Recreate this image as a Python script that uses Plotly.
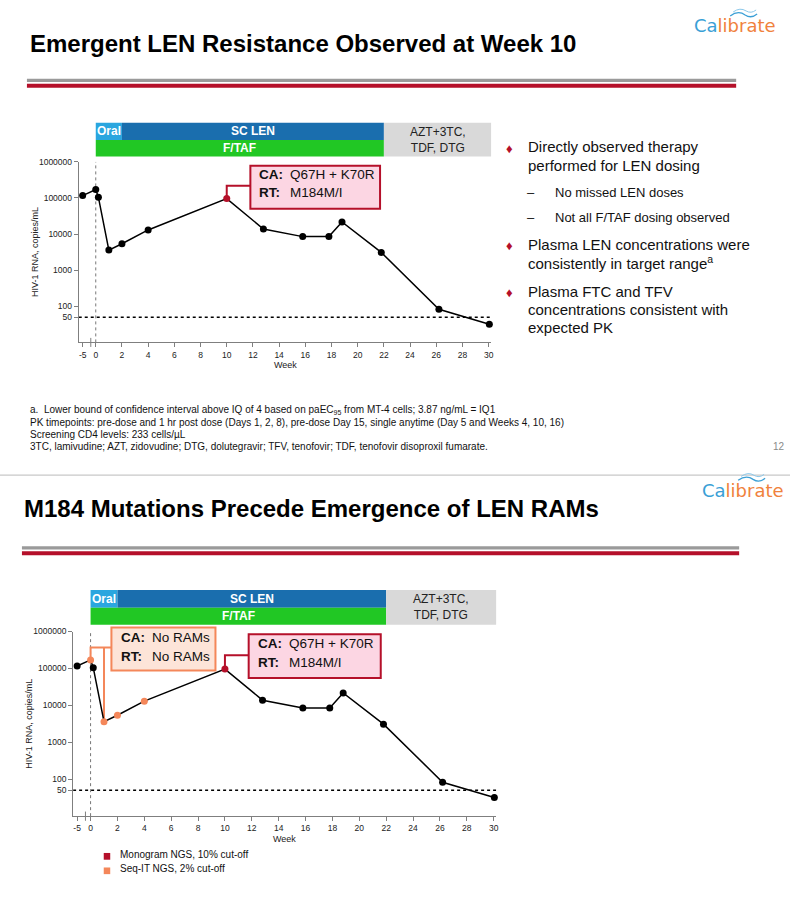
import plotly.graph_objects as go

W, H = 803, 900
FONT = "Liberation Sans, Arial, sans-serif"

# ---------------- data ----------------
weeks = [-5, 0, 0.2, 1, 2, 4, 10, 12.8, 15.8, 17.8, 18.8, 21.8, 26.2, 30.05]
rna = [116000, 170000, 105000, 3600, 5400, 13000, 96000, 13800, 8500, 8500, 21600, 3100, 83, 32]
top_colors = ["k", "k", "k", "k", "k", "k", "m", "k", "k", "k", "k", "k", "k", "k"]
bot_colors = ["k", "s", "k", "s", "s", "s", "m", "k", "k", "k", "k", "k", "k", "k"]
x_tick_labels = ["-5", "0", "2", "4", "6", "8", "10", "12", "14", "16", "18", "20", "22", "24", "26", "28", "30"]
y_tick_vals = [1000000, 100000, 10000, 1000, 100, 50]
y_tick_labels = ["1000000", "100000", "10000", "1000", "100", "50"]
lloq = 50
phase_row1 = ["Oral", "SC LEN"]
phase_row1_start = [0, 2]
phase_row1_end = [2, 22]
phase_row2 = ["F/TAF"]
phase_row2_start = [0]
phase_row2_end = [22]
post_label = "AZT+3TC,<br>TDF, DTG"
post_start = 22

COL = {"k": "#000000", "m": "#b5102a", "s": "#f4875a"}
XR = [-1.3, 30.2]
BREAK_POS = -1.0      # plotted position of week -5 (broken axis)
BREAK_MARK = -0.38


def xpos(w):
    return BREAK_POS if w < 0 else w


def px(x):
    return x / W


def py(y):
    return 1 - y / H


# chart pixel geometry (week-0 pixel, px per week, 1e6 pixel, px per decade)
G = {
    "top": dict(x0=96.0, sx=13.13, y6=157.7, sd=36.32, bar=(118.3, 135.7, 152.3)),
    "bot": dict(x0=90.8, sx=13.47, y6=630.0, sd=37.14, bar=(588.3, 606.0, 623.3)),
}


def wk_at(g, p):
    return (p - g["x0"]) / g["sx"]


def rna_at(g, p):
    return 10 ** (6 - (p - g["y6"]) / g["sd"])


fig = go.Figure()
shapes = []
ann = []


def text(x, y, s, size, color="#000", bold=False, xanchor="left", yanchor="middle", family=FONT, **kw):
    if bold:
        s = "<b>" + s + "</b>"
    y = y - 0.22 * size if not kw.get("textangle") else y
    ann.append(dict(x=px(x), y=py(y), xref="paper", yref="paper", text=s, showarrow=False,
                    xanchor=xanchor, yanchor=yanchor, font=dict(size=size, color=color, family=family), **kw))


def hline(x0, x1, y, color, width):
    shapes.append(dict(type="line", xref="paper", yref="paper", x0=px(x0), x1=px(x1), y0=py(y), y1=py(y),
                       line=dict(color=color, width=width)))


def rect(x0, y0, x1, y1, fill, line_color=None, lw=0):
    shapes.append(dict(type="rect", xref="paper", yref="paper", x0=px(x0), x1=px(x1), y0=py(y1), y1=py(y0),
                       fillcolor=fill, line=dict(color=line_color or fill, width=lw), layer="above"))


def logo(xl, yc):
    text(xl, yc, "<span style='color:#3a9fd6'>Ca</span><span style='color:#f0823c'>librate</span>", 18,
         family="DejaVu Sans, sans-serif")
    def path(pts):
        s = "M %f,%f" % (px(pts[0][0]), py(pts[0][1]))
        for i in range(1, len(pts) - 1, 2):
            s += " Q %f,%f %f,%f" % (px(pts[i][0]), py(pts[i][1]), px(pts[i + 1][0]), py(pts[i + 1][1]))
        return s
    o = xl + 38
    shapes.append(dict(type="path", xref="paper", yref="paper",
                       path=path([(o, yc - 14), (o + 8, yc - 20), (o + 15, yc - 15), (o + 21, yc - 11), (o + 27, yc - 16)]),
                       line=dict(color="#3a9fd6", width=1.3)))
    shapes.append(dict(type="path", xref="paper", yref="paper",
                       path=path([(o + 3, yc - 18), (o + 10, yc - 23), (o + 16, yc - 19), (o + 21, yc - 16), (o + 26, yc - 20)]),
                       line=dict(color="#8cc8ea", width=1)))


# ---------------- slide chrome ----------------
text(28, 44, "Emergent LEN Resistance Observed at Week 10", 24, bold=True)
logo(694, 25)
hline(27, 738, 75.8, "#9a9a9a", 3.2)
hline(27, 738, 81.3, "#b5102a", 4)

hline(0, 792, 472.7, "#c8c8c8", 1.2)
text(22, 512, "M184 Mutations Precede Emergence of LEN RAMs", 24, bold=True)
logo(702, 492)
hline(22, 741, 546, "#9a9a9a", 3.2)
hline(22, 741, 551.2, "#b5102a", 4)

# bullets (top slide)
bul = [(146, "Directly observed therapy"), (164.5, "performed for LEN dosing"),
       (244, "Plasma LEN concentrations were"), (262.5, "consistently in target range<sup>a</sup>"),
       (291, "Plasma FTC and TFV"), (309.5, "concentrations consistent with"), (328, "expected PK")]
for y, s in bul:
    text(527.7, y, s, 15, "#111")
for y in (146, 244, 291):
    text(510.7, y + 1, "♦", 13, "#b5102a", xanchor="center")
for y, s in [(191, "No missed LEN doses"), (217, "Not all F/TAF dosing observed")]:
    text(532.7, y, "–", 13, "#111", xanchor="center")
    text(554.3, y, s, 13, "#111")

foot = ["a.  Lower bound of confidence interval above IQ of 4 based on paEC<sub>95</sub> from MT-4 cells; 3.87 ng/mL = IQ1",
        "PK timepoints: pre-dose and 1 hr post dose (Days 1, 2, 8), pre-dose Day 15, single anytime (Day 5 and Weeks 4, 10, 16)",
        "Screening CD4 levels: 233 cells/µL",
        "3TC, lamivudine; AZT, zidovudine; DTG, dolutegravir; TFV, tenofovir; TDF, tenofovir disoproxil fumarate."]
for i, s in enumerate(foot):
    text(28, 409.5 + i * 12.3, s, 10, "#111")
text(789, 446.5, "12", 10, "#8a8a8a", xanchor="right")

# legend (bottom slide)
rect(104, 852.7, 110.5, 859.5, COL["m"])
text(118, 856, "Monogram NGS, 10% cut-off", 10, "#111")
rect(104, 867.3, 110.5, 874, COL["s"])
text(118, 871, "Seq-IT NGS, 2% cut-off", 10, "#111")

# ---------------- charts ----------------
axes = {}
for key, xa, ya in [("top", "x", "y"), ("bot", "x2", "y2")]:
    g = G[key]
    xd = [px(g["x0"] + XR[0] * g["sx"]), px(g["x0"] + XR[1] * g["sx"])]
    yd = [py(g["y6"] + 5 * g["sd"]), py(g["y6"])]
    sfx = "" if xa == "x" else "2"
    axes["xaxis" + sfx] = dict(domain=xd, range=XR, anchor=ya, tickvals=[BREAK_POS] + list(range(0, 31, 2)),
                               ticktext=x_tick_labels, ticks="outside", ticklen=4, tickcolor="#7f7f7f",
                               showline=True, linecolor="#7f7f7f", linewidth=1, showgrid=False, zeroline=False,
                               tickfont=dict(size=8.5, color="#222", family=FONT))
    axes["yaxis" + sfx] = dict(domain=yd, type="log", range=[1, 6], anchor=xa, tickvals=y_tick_vals,
                               ticktext=y_tick_labels, ticks="outside", ticklen=4, tickcolor="#7f7f7f",
                               showline=True, linecolor="#7f7f7f", linewidth=1, showgrid=False, zeroline=False,
                               tickfont=dict(size=8.5, color="#222", family=FONT))
    # axis break mark
    shapes.append(dict(type="line", xref=xa, yref=ya + " domain", x0=BREAK_MARK, x1=BREAK_MARK, y0=-0.025, y1=0.025,
                       line=dict(color="#7f7f7f", width=1)))
    # treatment bars
    b0, b1, b2 = g["bar"]
    row1_cols = ["#2aa6df", "#1a6eae"]
    for lab, s, e, c in zip(phase_row1, phase_row1_start, phase_row1_end, row1_cols):
        shapes.append(dict(type="rect", xref=xa, yref="paper", x0=s, x1=e, y0=py(b1), y1=py(b0),
                           fillcolor=c, line=dict(width=0)))
        ann.append(dict(x=(s + e) / 2, y=py((b0 + b1) / 2), xref=xa, yref="paper", text="<b>" + lab + "</b>",
                        showarrow=False, xanchor="center", yanchor="middle",
                        font=dict(size=12, color="white", family=FONT)))
    for lab, s, e in zip(phase_row2, phase_row2_start, phase_row2_end):
        shapes.append(dict(type="rect", xref=xa, yref="paper", x0=s, x1=e, y0=py(b2), y1=py(b1),
                           fillcolor="#21c724", line=dict(width=0)))
        ann.append(dict(x=(s + e) / 2, y=py((b1 + b2) / 2), xref=xa, yref="paper", text="<b>" + lab + "</b>",
                        showarrow=False, xanchor="center", yanchor="middle",
                        font=dict(size=12, color="white", family=FONT)))
    shapes.append(dict(type="rect", xref=xa, yref="paper", x0=post_start, x1=XR[1], y0=py(b2), y1=py(b0),
                       fillcolor="#d9d9d9", line=dict(width=0)))
    ann.append(dict(x=(post_start + XR[1]) / 2, y=py((b0 + b2) / 2), xref=xa, yref="paper", text=post_label,
                    showarrow=False, xanchor="center", yanchor="middle",
                    font=dict(size=12, color="#222", family=FONT)))
    # axis titles
    yc = g["y6"] + 2.5 * g["sd"]
    xc = g["x0"] + (XR[0] + XR[1]) / 2 * g["sx"]
    text(35 if key == "top" else 29, yc, "HIV-1 RNA, copies/mL", 9, "#222", xanchor="center", textangle=-90)
    text(xc, g["y6"] + 5 * g["sd"] + 24.5, "Week", 9, "#222", xanchor="center")

    # reference lines
    fig.add_trace(go.Scatter(x=[0, 0], y=[10, 1e6], mode="lines", xaxis=xa, yaxis=ya, hoverinfo="skip",
                             line=dict(color="#777", width=1, dash="dot"), showlegend=False))
    fig.add_trace(go.Scatter(x=XR, y=[lloq, lloq], mode="lines", xaxis=xa, yaxis=ya, hoverinfo="skip",
                             line=dict(color="#000", width=1.5, dash="dot"), showlegend=False))

    # callout boxes and connectors
    if key == "top":
        boxes = [("m", 251, 161.7, 381, 205, 181.7, 10, [(173.3, "Q67H + K70R"), (191.7, "M184M/I")], 258, 288.7)]
    else:
        boxes = [("s", 111.7, 626, 216, 669.3, 646, 0, [(638.7, "No RAMs"), (657.7, "No RAMs")], 119, 150),
                 ("m", 249.3, 632.7, 381.7, 676.7, 654, 10, [(645.3, "Q67H + K70R"), (663.7, "M184M/I")], 256.7, 287.7)]
    for c, x0, y0, x1, y1, ye, wk, lines, xl, xv in boxes:
        col = COL[c]
        fill = "#fcd6e3" if c == "m" else "#fde4d8"
        i = weeks.index(wk)
        fig.add_trace(go.Scatter(x=[wk, wk, wk_at(g, x0)], y=[rna[i], rna_at(g, ye), rna_at(g, ye)], mode="lines",
                                 xaxis=xa, yaxis=ya, hoverinfo="skip", line=dict(color=col, width=2),
                                 showlegend=False))
        if c == "s":
            j = weeks.index(1)
            fig.add_trace(go.Scatter(x=[1, 1], y=[rna_at(g, ye), rna[j]], mode="lines", xaxis=xa, yaxis=ya,
                                     hoverinfo="skip", line=dict(color=col, width=2), showlegend=False))
        rect(x0, y0, x1, y1, fill, col, 2)
        for (yy, val), lab in zip(lines, ["CA:", "RT:"]):
            text(xl, yy, lab, 13.5, "#111", bold=True)
            text(xv, yy, val, 13.5, "#111")

    cols = top_colors if key == "top" else bot_colors
    fig.add_trace(go.Scatter(x=[xpos(w) for w in weeks], y=rna, mode="lines+markers", xaxis=xa, yaxis=ya,
                             line=dict(color="#000", width=1.5),
                             marker=dict(size=7, color=[COL[c] for c in cols], line=dict(width=0)),
                             showlegend=False, cliponaxis=False))

fig.update_layout(width=W, height=H, margin=dict(l=0, r=0, t=0, b=0), paper_bgcolor="white",
                  plot_bgcolor="white", showlegend=False, shapes=shapes, annotations=ann,
                  font=dict(family=FONT), **axes)
fig.write_html("out.html", config={"displayModeBar": False},
               post_script="document.body.style.margin='0px';")
